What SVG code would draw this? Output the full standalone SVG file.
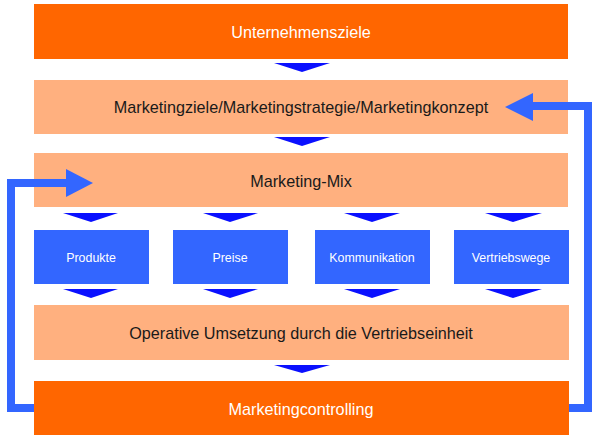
<svg xmlns="http://www.w3.org/2000/svg" width="600" height="442" viewBox="0 0 600 442">
<defs>
<style>
.dark{fill:#FF6600}
.light{fill:#FFB07F}
.blue{fill:#3366FF}
.tri{fill:#0A10FF}
.t{font-family:"Liberation Sans",Arial,sans-serif;text-anchor:middle;dominant-baseline:central}
.w{fill:#FFFFFF}
.k{fill:#1a1a1a}
.big{font-size:16.2px}
.sm{font-size:12.4px}
.fb{fill:none;stroke:#3366FF;stroke-width:8}
</style>
</defs>
<g id="unternehmensziele"><rect class="dark" x="34" y="4" width="534" height="55"/><text class="t w big" x="301" y="32">Unternehmensziele</text></g>
<g id="marketingziele"><rect class="light" x="34" y="80" width="534" height="54"/><text class="t k big" x="301" y="107">Marketingziele/Marketingstrategie/Marketingkonzept</text></g>
<g id="marketingmix"><rect class="light" x="34" y="153" width="534" height="54"/><text class="t k big" x="301" y="181">Marketing-Mix</text></g>
<g id="produkte"><rect class="blue" x="34" y="230" width="115" height="54"/><text class="t w sm" x="91" y="258">Produkte</text></g>
<g id="preise"><rect class="blue" x="173" y="230" width="115" height="54"/><text class="t w sm" x="230" y="258">Preise</text></g>
<g id="kommunikation"><rect class="blue" x="315" y="230" width="115" height="54"/><text class="t w sm" x="372" y="258">Kommunikation</text></g>
<g id="vertriebswege"><rect class="blue" x="454" y="230" width="115" height="54"/><text class="t w sm" x="511" y="258">Vertriebswege</text></g>
<g id="operative"><rect class="light" x="34" y="305" width="535" height="55"/><text class="t k big" x="301" y="333">Operative Umsetzung durch die Vertriebseinheit</text></g>
<g id="marketingcontrolling"><rect class="dark" x="34" y="381" width="535" height="54"/><text class="t w big" x="301" y="409">Marketingcontrolling</text></g>
<g id="connectors">
<path class="fb" d="M34,408 H11 V183 H68"/>
<polygon class="blue" points="66,169 93,183 66,197"/>
<path class="fb" d="M569,408 H588 V106 H531"/>
<polygon class="blue" points="533,93 505,107 533,121"/>
<polygon class="tri" points="274,63 330,63 302,72"/>
<polygon class="tri" points="274,137 330,137 302,146"/>
<polygon class="tri" points="63,213 118,213 91,222"/>
<polygon class="tri" points="203,213 258,213 230,222"/>
<polygon class="tri" points="344,213 400,213 372,222"/>
<polygon class="tri" points="485,213 542,213 513,222"/>
<polygon class="tri" points="63,289 118,289 91,298"/>
<polygon class="tri" points="203,289 258,289 230,298"/>
<polygon class="tri" points="344,289 400,289 372,298"/>
<polygon class="tri" points="485,289 542,289 513,298"/>
<polygon class="tri" points="274,365 330,365 302,373"/>
</g>
</svg>
